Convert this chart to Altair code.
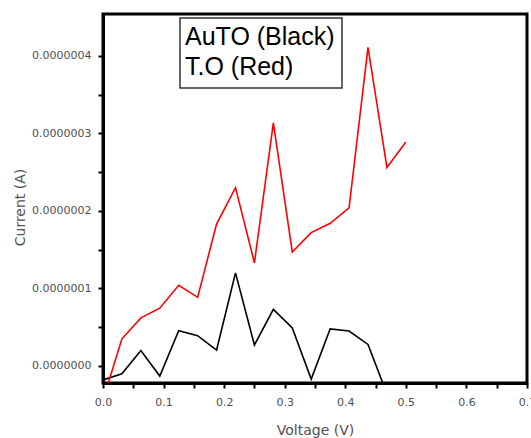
import altair as alt
import pandas as pd

# Voltage grid (V)
voltage = [0.0, 0.03125, 0.0625, 0.09375, 0.125, 0.15625, 0.1875, 0.21875,
           0.25, 0.28125, 0.3125, 0.34375, 0.375, 0.40625, 0.4375, 0.46875, 0.5]

# AuTO (black) current (A)
current_auto = [-1.8e-8, -1.0e-8, 2.0e-8, -1.3e-8, 4.55e-8, 3.9e-8, 2.05e-8, 1.20e-7,
                2.7e-8, 7.3e-8, 4.9e-8, -1.7e-8, 4.77e-8, 4.5e-8, 2.77e-8, -3.6e-8]

# T.O (red) current (A)
current_to = [-4.4e-8, 3.5e-8, 6.2e-8, 7.45e-8, 1.04e-7, 8.85e-8, 1.83e-7, 2.30e-7,
              1.33e-7, 3.135e-7, 1.47e-7, 1.72e-7, 1.84e-7, 2.04e-7, 4.11e-7, 2.56e-7, 2.89e-7]

series_names = ["AuTO", "T.O"]
series_colors = ["#000000", "#ff0000"]
legend_lines = ["AuTO (Black)", "T.O (Red)"]

x_ticks = [0.0, 0.05, 0.1, 0.15, 0.2, 0.25, 0.3, 0.35, 0.4, 0.45, 0.5, 0.55, 0.6, 0.65, 0.7]
y_ticks = [0.0, 5e-8, 1e-7, 1.5e-7, 2e-7, 2.5e-7, 3e-7, 3.5e-7, 4e-7]

rows = []
for v, c in zip(voltage, current_auto):
    rows.append({"voltage": v, "current": c, "series": "AuTO"})
for v, c in zip(voltage, current_to):
    rows.append({"voltage": v, "current": c, "series": "T.O"})
df = pd.DataFrame(rows)

W, H = 424, 369

lines = alt.Chart(df).mark_line(strokeWidth=1.6, clip=True).encode(
    x=alt.X("voltage:Q",
            scale=alt.Scale(domain=[0, 0.7], nice=False, zero=False),
            axis=alt.Axis(values=x_ticks, grid=False, domainColor="black", domainWidth=3,
                          tickColor="black", tickWidth=2, tickSize=5,
                          labelExpr="(round(datum.value*100) % 10 == 0) ? format(datum.value, '.1f') : ''",
                          labelFont="DejaVu Sans", labelFontSize=11, labelColor="#505050",
                          labelPadding=8, labelFlush=False, labelOverlap=False,
                          title="Voltage (V)", titleFont="DejaVu Sans", titleFontSize=14,
                          titleFontWeight="normal", titleColor="#505050", titlePadding=16)),
    y=alt.Y("current:Q",
            scale=alt.Scale(domain=[-2.2e-8, 4.54e-7], nice=False, zero=False),
            axis=alt.Axis(values=y_ticks, grid=False, domainColor="black", domainWidth=3,
                          tickColor="black", tickWidth=2, tickSize=5,
                          labelExpr="(round(datum.value*1e8) % 10 == 0) ? format(datum.value, '.7f') : ''",
                          labelFont="DejaVu Sans", labelFontSize=11, labelColor="#505050",
                          labelPadding=7, labelFlush=False, labelOverlap=False,
                          title="Current (A)", titleFont="DejaVu Sans", titleFontSize=14,
                          titleFontWeight="normal", titleColor="#505050", titlePadding=4,
                          titleY=193)),
    color=alt.Color("series:N", scale=alt.Scale(domain=series_names, range=series_colors), legend=None),
)

box = alt.Chart(pd.DataFrame({"a": [0]})).mark_rect(
    fill="white", stroke="#333333", strokeWidth=1.5
).encode(x=alt.value(77), x2=alt.value(239), y=alt.value(4), y2=alt.value(74))

txt1 = alt.Chart(pd.DataFrame({"t": [legend_lines[0]]})).mark_text(
    align="left", baseline="alphabetic", font="Liberation Sans", fontSize=25, color="black"
).encode(x=alt.value(82), y=alt.value(31), text="t:N")

txt2 = alt.Chart(pd.DataFrame({"t": [legend_lines[1]]})).mark_text(
    align="left", baseline="alphabetic", font="Liberation Sans", fontSize=25, color="black"
).encode(x=alt.value(82), y=alt.value(61), text="t:N")

chart = alt.layer(lines, box, txt1, txt2).properties(
    width=W, height=H,
    padding={"left": 103, "top": 14, "right": 4, "bottom": 55},
    autosize="none",
    background="white",
).configure_view(stroke="black", strokeWidth=3)

chart.save("out.html", embed_options={"renderer": "svg", "actions": False})
